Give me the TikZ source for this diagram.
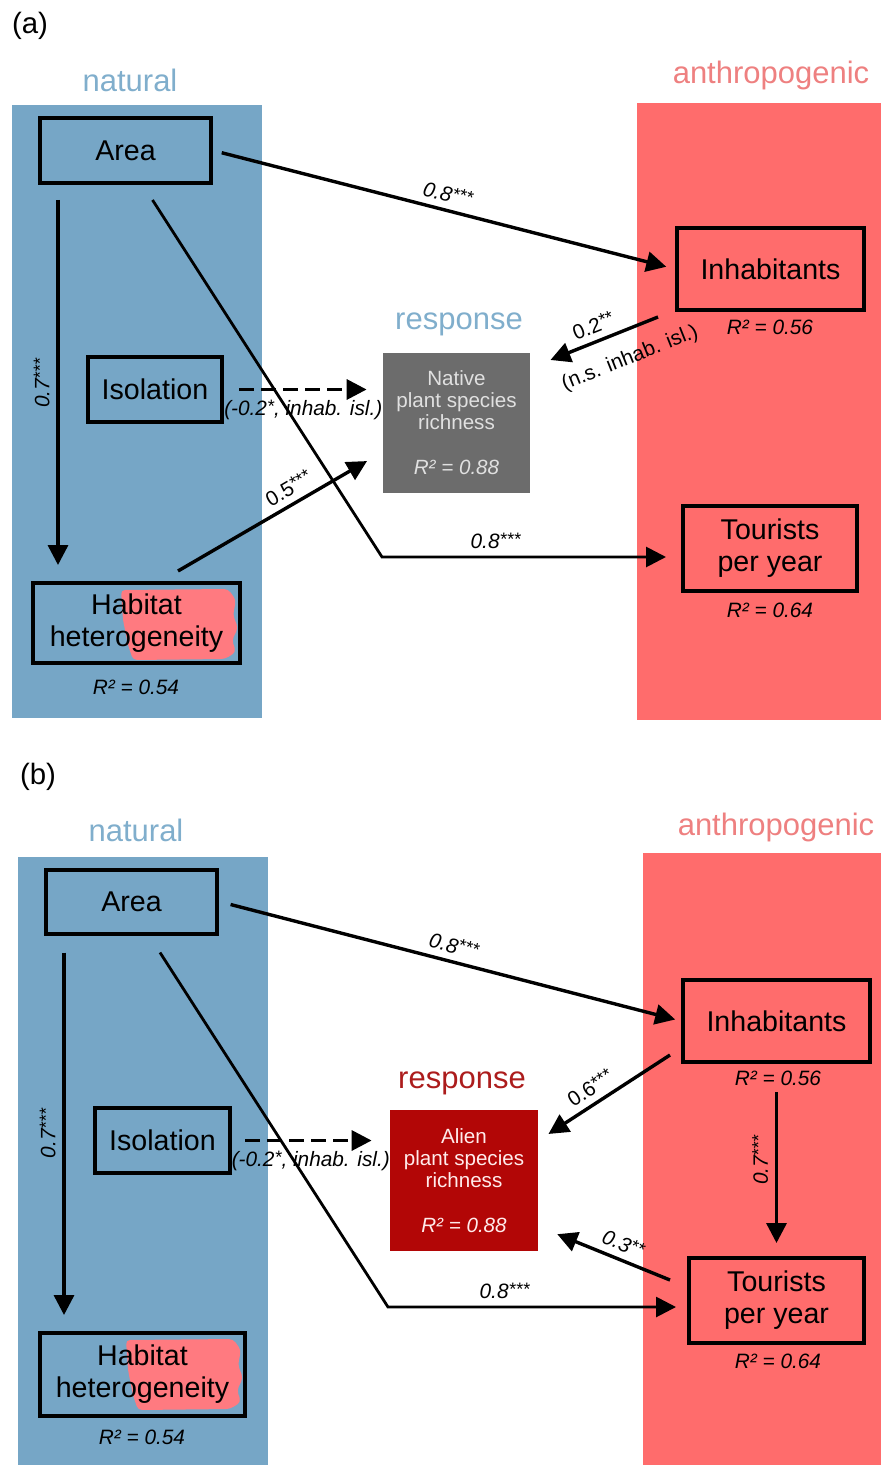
\documentclass[tikz,border=0pt]{standalone}
\usepackage{fontspec}
\setmainfont{Liberation Sans}
\usepackage{tikz}
\usetikzlibrary{arrows.meta}
\definecolor{natblue}{RGB}{118,166,198}
\definecolor{natlabel}{RGB}{128,174,204}
\definecolor{anthred}{RGB}{255,108,108}
\definecolor{anthlabel}{RGB}{238,128,128}
\definecolor{respgray}{RGB}{108,108,108}
\definecolor{alienred}{RGB}{178,6,6}
\definecolor{alienlabel}{RGB}{172,28,28}
\definecolor{smudge}{RGB}{255,122,128}
\newcommand{\sigstars}[1]{\raisebox{.3ex}{\fontsize{9}{9}\selectfont#1}}

\begin{document}
\begin{tikzpicture}[x=0.5pt, y=-0.5pt,
    var/.style={draw, line width=2pt, align=center, inner sep=0pt, font=\fontsize{14.3}{16}\selectfont},
    resp/.style={align=center, inner sep=0pt, font=\fontsize{10.3}{11}\selectfont},
    group/.style={font=\fontsize{15.5}{18}\selectfont},
    rsq/.style={font=\fontsize{10.4}{12}\selectfont\itshape},
    coef/.style={font=\fontsize{10.4}{12}\selectfont\itshape, sloped},
    coefup/.style={font=\fontsize{10.4}{12}\selectfont, sloped},
    coefv/.style={font=\fontsize{10.4}{12}\selectfont\itshape, rotate=90, anchor=south},
    eff/.style={line width=1.7pt, -{Triangle[length=10pt,width=10pt]}},
    dasheff/.style={eff, dash pattern=on 7.5pt off 3.5pt}]
    \useasboundingbox (0,0) rectangle (881,1465);

    % (a) native
    \fill[natblue] (12,105) rectangle (262,718);
    \fill[anthred] (637,103) rectangle (881,720);
    \fill[smudge, rounded corners=2pt] (121,590) -- (228,589) -- (236,600) -- (233,615) -- (238,628) -- (232,640) -- (236,652) -- (225,659) -- (133,660) -- (128,645) -- (123,620) -- cycle;

    \node[font=\fontsize{14.7}{17}\selectfont] (tagA) at (30,26) {(a)};
    \node[group, text=natlabel] (natA) at (130,80) {natural};
    \node[group, text=anthlabel] (anthA) at (771,75) {anthropogenic};
    \node[group, text=natlabel] (respA) at (459,324) {response};

    \node[var, minimum width=85.5pt, minimum height=32.5pt] (areaA) at (125.5,150.5) {Area};
    \node[var, minimum width=93.5pt, minimum height=41pt] (inhabA) at (770.5,269) {Inhabitants};
    \node[var, minimum width=67pt, minimum height=32.5pt] (isolA) at (155,389.5) {Isolation};
    \node[var, minimum width=103.5pt, minimum height=40pt] (habitatA) at (136.5,623) {Habitat\\heterogeneity};
    \node[var, minimum width=87pt, minimum height=42.5pt] (tourA) at (770,548.5) {Tourists\\per year};
    \node[resp, fill=respgray, text=white!88!black, minimum width=73.5pt, minimum height=70pt] (nativeA) at (456.5,423) {Native\\plant species\\richness\\[11.5pt]\textit{R² = 0.88}};

    \node[rsq] (rInhabA) at (770,327) {R² = 0.56};
    \node[rsq] (rTourA) at (770,610) {R² = 0.64};
    \node[rsq] (rHabitatA) at (136,687) {R² = 0.54};

    \coordinate (bendA) at (382,557);
    \draw[eff, shorten <=4.5pt, shorten >=4.5pt] (areaA.east) -- node[coef, above] {0.8\sigstars{***}} (inhabA.west);
    \draw[eff, shorten <=7.5pt, shorten >=8pt] ([xshift=10pt]areaA.south west) -- node[coefv] {0.7\sigstars{***}} ([xshift=10pt]areaA.south west |- habitatA.north);
    \draw[eff, line width=1.4pt, shorten >=7.5pt] ([xshift=13.5pt,yshift=-7.5pt]areaA.south) -- (bendA) -- node[coef, above, pos=0.38] {0.8\sigstars{***}} (bendA -| tourA.west);
    \draw[dasheff, shorten <=7.5pt, shorten >=8pt] (isolA.east) -- node[coef, below=1pt] {(-0.2\sigstars{*}, inhab. isl.)} (isolA.east -| nativeA.west);
    \draw[eff, shorten >=9pt] ([xshift=20.75pt,yshift=5pt]habitatA.north) -- node[coefup, above, pos=0.58] {0.5\sigstars{***}} ([yshift=-14.5pt]nativeA.west);
    \draw[eff, shorten >=10.8pt] ([xshift=-8.5pt,yshift=-2.5pt]inhabA.south west) -- node[coefup, above, pos=0.46] {0.2\sigstars{**}} node[coefup, below=5pt, pos=0.3] {(n.s. inhab. isl.)} ([yshift=27.5pt]nativeA.east);

    % (b) alien
    \fill[natblue] (18,857) rectangle (268,1465);
    \fill[anthred] (643,853) rectangle (881,1465);
    \fill[smudge, rounded corners=2pt, shift={(5,750)}] (121,590) -- (228,589) -- (236,600) -- (233,615) -- (238,628) -- (232,640) -- (236,652) -- (225,659) -- (133,660) -- (128,645) -- (123,620) -- cycle;

    \node[font=\fontsize{14.7}{17}\selectfont] (tagB) at (38,777) {(b)};
    \node[group, text=natlabel] (natB) at (136,830) {natural};
    \node[group, text=anthlabel] (anthB) at (776,827) {anthropogenic};
    \node[group, text=alienlabel] (respB) at (462,1083) {response};

    \node[var, minimum width=85.5pt, minimum height=32pt] (areaB) at (131.5,901.5) {Area};
    \node[var, minimum width=93.5pt, minimum height=41pt] (inhabB) at (776.5,1021) {Inhabitants};
    \node[var, minimum width=67.5pt, minimum height=32.5pt] (isolB) at (162.5,1140.5) {Isolation};
    \node[var, minimum width=102.5pt, minimum height=41.5pt] (habitatB) at (142.5,1374.5) {Habitat\\heterogeneity};
    \node[var, minimum width=87.5pt, minimum height=42.5pt] (tourB) at (776.5,1300.5) {Tourists\\per year};
    \node[resp, fill=alienred, text=white!92!red, minimum width=74pt, minimum height=70.5pt] (alienB) at (464,1180.5) {Alien\\plant species\\richness\\[11.5pt]\textit{R² = 0.88}};

    \node[rsq] (rInhabB) at (778,1078) {R² = 0.56};
    \node[rsq] (rTourB) at (778,1361) {R² = 0.64};
    \node[rsq] (rHabitatB) at (142,1437) {R² = 0.54};

    \coordinate (bendB) at (388,1307);
    \draw[eff, shorten <=6pt, shorten >=3pt] (areaB.east) -- node[coef, above] {0.8\sigstars{***}} (inhabB.west);
    \draw[eff, shorten <=8.5pt, shorten >=8pt] ([xshift=10pt]areaB.south west) -- node[coefv] {0.7\sigstars{***}} ([xshift=10pt]areaB.south west |- habitatB.north);
    \draw[eff, line width=1.4pt, shorten >=5.5pt] ([xshift=14.25pt,yshift=-8.5pt]areaB.south) -- (bendB) -- node[coef, above, pos=0.39] {0.8\sigstars{***}} (bendB -| tourB.west);
    \draw[dasheff, shorten <=6.5pt, shorten >=9pt] (isolB.east) -- node[coef, below=1pt] {(-0.2\sigstars{*}, inhab. isl.)} (isolB.east -| alienB.west);
    \draw[eff, shorten >=6pt] ([xshift=-5.5pt,yshift=4.5pt]inhabB.south west) -- node[coefup, above, pos=0.54] {0.6\sigstars{***}} ([yshift=20pt]alienB.east);
    \draw[eff, shorten <=14pt, shorten >=6.5pt] (inhabB.south) -- node[coefv] {0.7\sigstars{***}} (tourB.north);
    \draw[eff, shorten >=10.2pt] ([xshift=-8.5pt,yshift=10.25pt]tourB.west) -- node[coef, above, pos=0.4] {0.3\sigstars{**}} ([yshift=-23pt]alienB.east);
\end{tikzpicture}
\end{document}
